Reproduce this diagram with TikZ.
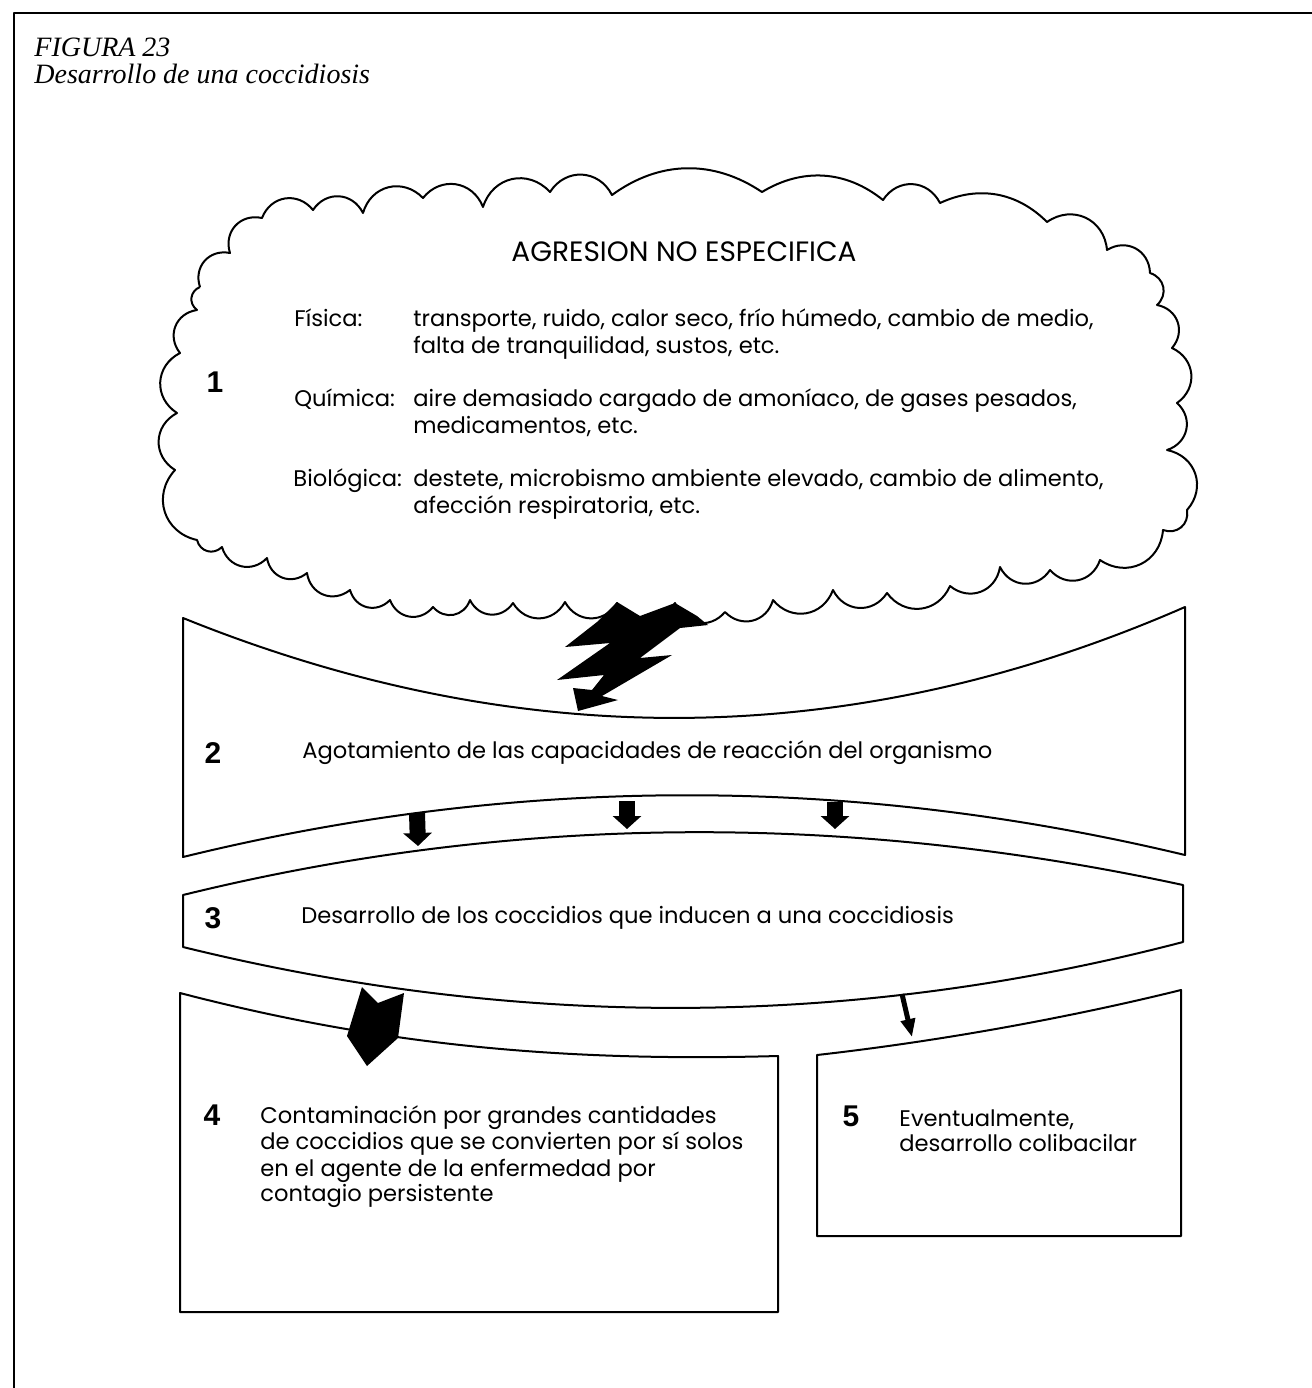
\documentclass[tikz,border=0pt]{standalone}
\usepackage{fontspec}
\usetikzlibrary{arrows.meta}
\newfontfamily\bodyfont{Poppins}
\newfontfamily\numfont{Liberation Sans}
\newfontfamily\titlefont{Liberation Serif}

\tikzset{
  boxline/.style={line width=1pt, line join=round},
  puff/.style={bend left=60, looseness=1.2},
  flatpuff/.style={bend left=35},
  txt/.style={font=\bodyfont\fontsize{11.3}{13.5}\selectfont, anchor=base west, inner sep=0pt},
  num/.style={font=\numfont\bfseries\fontsize{15}{15}\selectfont, anchor=base, inner sep=0pt},
  titletxt/.style={font=\titlefont\itshape\fontsize{14}{16}\selectfont, anchor=base west, inner sep=0pt},
  fatarrow/.style={line width=8pt, -{Triangle[width=14pt,length=6.5pt]}},
  thinarrow/.style={line width=2.5pt, -{Triangle[width=7pt,length=9pt]}}
}

\begin{document}
\begin{tikzpicture}[x=0.5pt,y=-0.5pt]
\useasboundingbox (0,0) rectangle (1312,1388);

% marco
\draw[boxline] (14,1388) -- (14,13) -- (1312,13);

\node[titletxt] (fig) at (34,56) {FIGURA 23};
\node[titletxt] (tit) at (34,83) {Desarrollo de una coccidiosis};

% nube 1
\draw[boxline] (200,287) to[puff] (230,253) to[puff] (262,218) to[puff] (313,210)
  to[puff] (363,213) to[puff] (423,198) to[puff] (483,207) to[puff] (550,192)
  to[puff] (612,195) to[flatpuff] (762,192) to[flatpuff] (883,200) to[puff] (940,203)
  to[flatpuff] (1047,222) to[puff] (1107,250) to[puff] (1150,273) to[puff] (1157,305)
  to[puff] (1172,348) to[puff] (1177,403) to[puff] (1167,450) to[puff] (1187,510)
  to[puff] (1163,530) to[puff] (1100,560) to[puff] (1050,570) to[puff] (1000,567)
  to[puff] (950,586) to[puff] (887,593) to[puff] (833,590) to[puff] (773,600)
  to[puff] (725,612) to[puff] (675,603) to[puff] (617,603) to[puff] (565,602)
  to[puff] (513,603) to[puff] (470,600) to[puff] (433,607) to[puff] (390,600)
  to[puff] (350,590) to[puff] (307,573) to[puff] (267,558) to[puff] (222,547)
  to[puff] (197,540) to[puff] (175,470) to[puff] (177,413) to[puff] (180,353)
  to[puff] (197,310) to[puff] (200,287);

\node[txt, anchor=base, font=\bodyfont\fontsize{14}{16}\selectfont] (head) at (684,261) {AGRESION NO ESPECIFICA};
\node[num] (n1) at (215,392) {1};
\node[txt] (fis) at (294,326) {Física:};
\node[txt] (fis1) at (413,326) {transporte, ruido, calor seco, frío húmedo, cambio de medio,};
\node[txt] (fis2) at (413,353) {falta de tranquilidad, sustos, etc.};
\node[txt] (qui) at (294,406) {Química:};
\node[txt] (qui1) at (413,406) {aire demasiado cargado de amoníaco, de gases pesados,};
\node[txt] (qui2) at (413,433) {medicamentos, etc.};
\node[txt] (bio) at (293,486) {Biológica:};
\node[txt] (bio1) at (413,486) {destete, microbismo ambiente elevado, cambio de alimento,};
\node[txt] (bio2) at (413,513) {afección respiratoria, etc.};

% franja 2
\draw[boxline] (183,618) .. controls (517,753) and (851,753) .. (1185,607)
  -- (1185,855) .. controls (851,775) and (517,775) .. (183,857) -- cycle;
\node[num] (n2) at (213,763) {2};
\node[txt] (t2) at (302,758) {Agotamiento de las capacidades de reacción del organismo};

% rayo
\fill (565,647) -- (597,622) -- (617,602) -- (640,616) -- (675,603) -- (697,616)
  -- (708,625) -- (680,628) -- (640,658) -- (672,655) -- (602,696) -- (618,700)
  -- (578,711) -- (573,688) -- (592,690) -- (604,675) -- (557,680) -- (610,643) -- cycle;

% franja 3
\draw[boxline] (183,895) .. controls (516,813) and (850,813) .. (1183,885)
  -- (1183,942) .. controls (850,1029) and (516,1029) .. (183,947) -- cycle;
\node[num] (n3) at (213,928) {3};
\node[txt] (t3) at (301,923) {Desarrollo de los coccidios que inducen a una coccidiosis};

\coordinate (a1) at (417,813); \coordinate (b1) at (418,846);
\coordinate (a2) at (627,801); \coordinate (b2) at (627,829);
\coordinate (a3) at (835,802); \coordinate (b3) at (835,829);
\draw[fatarrow] (a1) -- (b1);
\draw[fatarrow] (a2) -- (b2);
\draw[fatarrow] (a3) -- (b3);

% cuadro 4
\draw[boxline] (180,993) .. controls (380,1045) and (560,1062) .. (778,1056)
  -- (778,1312) -- (180,1312) -- cycle;
\fill (362,987) -- (378,1003) -- (404,993) -- (398,1038) -- (367,1066) -- (347,1036) -- cycle;
\node[num] (n4) at (212,1125) {4};
\node[txt] (t4a) at (260,1123) {Contaminación por grandes cantidades};
\node[txt] (t4b) at (260,1149) {de coccidios que se convierten por sí solos};
\node[txt] (t4c) at (260,1176) {en el agente de la enfermedad por};
\node[txt] (t4d) at (260,1201) {contagio persistente};

% cuadro 5
\draw[boxline] (817,1055) .. controls (950,1040) and (1080,1015) .. (1181,990)
  -- (1181,1236) -- (817,1236) -- cycle;
\coordinate (a5) at (902,994); \coordinate (b5) at (912,1037);
\draw[thinarrow] (a5) -- (b5);
\node[num] (n5) at (851,1126) {5};
\node[txt] (t5a) at (899,1126) {Eventualmente,};
\node[txt] (t5b) at (899,1151) {desarrollo colibacilar};

\end{tikzpicture}
\end{document}
